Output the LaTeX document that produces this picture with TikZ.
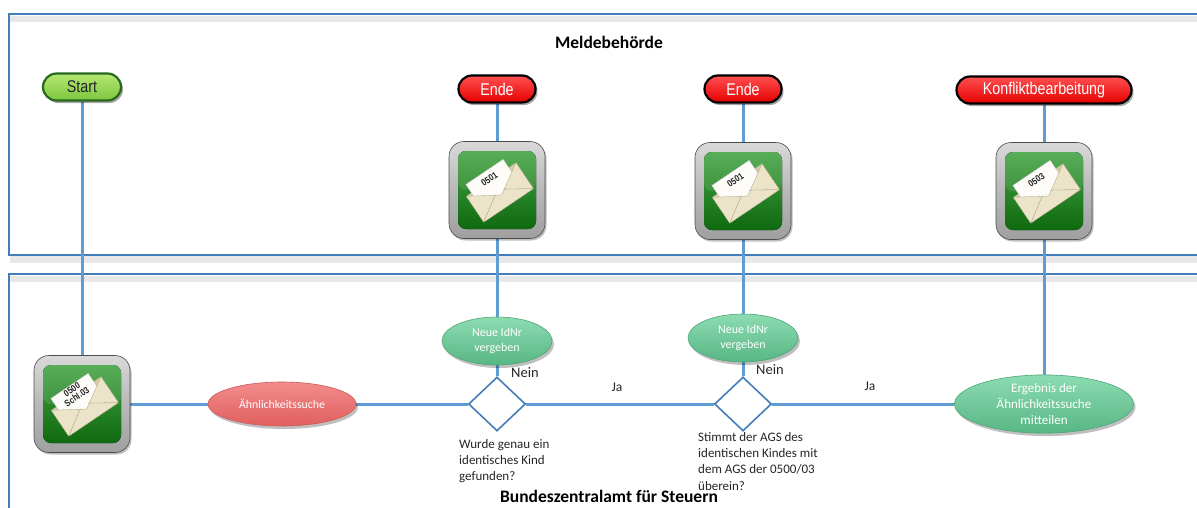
\documentclass[tikz,border=0pt]{standalone}
\usepackage{fontspec}
\setmainfont{Carlito}
\newfontfamily\narrowfont[FakeStretch=0.84]{Liberation Sans}
\usetikzlibrary{shapes.geometric,shadows,backgrounds}
\definecolor{lanecol}{RGB}{66,126,186}
\definecolor{conncol}{RGB}{96,156,212}
\definecolor{redA}{RGB}{255,80,80}
\definecolor{redB}{RGB}{228,0,0}
\definecolor{sgreenA}{RGB}{180,232,115}
\definecolor{sgreenB}{RGB}{125,198,62}
\definecolor{sgreenD}{RGB}{40,105,30}
\definecolor{ellgA}{RGB}{140,220,178}
\definecolor{ellgB}{RGB}{88,182,132}
\definecolor{ellgD}{RGB}{80,165,120}
\definecolor{ellrA}{RGB}{242,140,140}
\definecolor{ellrB}{RGB}{225,95,95}
\definecolor{ellrD}{RGB}{205,90,90}
\definecolor{icongA}{RGB}{70,165,70}
\definecolor{icongB}{RGB}{15,105,15}
\definecolor{envA}{RGB}{236,228,200}
\definecolor{envB}{RGB}{215,203,165}
\definecolor{diacol}{RGB}{70,125,185}
\tikzset{
  pill/.style={rectangle, rounded corners=13.5pt, minimum height=27pt, line width=2.2pt,
    inner sep=0pt, font=\narrowfont\fontsize{17}{17}\selectfont,
    drop shadow={shadow xshift=2pt, shadow yshift=-2.5pt, opacity=0.35, fill=black}},
  startpill/.style={pill, draw=sgreenD, top color=sgreenA, bottom color=sgreenB, text=black!85},
  endpill/.style={pill, draw=black, top color=redA, bottom color=redB, text=white},
  iconframe/.style={rectangle, rounded corners=15pt, minimum width=96pt, minimum height=97pt,
    draw=gray!60!black, line width=0.6pt, top color=gray!30, bottom color=gray!75, middle color=gray!55,
    drop shadow={shadow xshift=1.5pt, shadow yshift=-2pt, opacity=0.25, fill=black}},
  greenell/.style={ellipse, draw=ellgD, line width=0.6pt, top color=ellgA, bottom color=ellgB,
    text=white, inner sep=0pt, align=center,
    drop shadow={shadow xshift=2pt, shadow yshift=-3pt, opacity=0.25, fill=black}},
  redell/.style={ellipse, draw=ellrD, line width=0.6pt, top color=ellrA, bottom color=ellrB,
    text=white, inner sep=0pt, align=center,
    drop shadow={shadow xshift=2pt, shadow yshift=-3pt, opacity=0.25, fill=black}},
  decision/.style={diamond, draw=diacol, line width=1.6pt, fill=white, minimum width=57pt,
    minimum height=54pt, inner sep=0pt},
  conn/.style={draw=conncol, line width=3pt},
  lanebox/.style={draw=lanecol, line width=2.8pt},
  qtext/.style={font=\fontsize{13}{16.3}\selectfont, align=left, inner sep=0pt, anchor=north west, text=black!85},
  lbl/.style={font=\fontsize{14.5}{14.5}\selectfont, inner sep=0pt, text=black!85},
  lanetitle/.style={font=\bfseries\fontsize{17.5}{18}\selectfont, inner sep=0pt},
  envicon/.pic={
    \fill[top color=icongA, bottom color=icongB, rounded corners=8pt] (-39,-39) rectangle (39,39);
    \fill[white, opacity=0.10, rounded corners=8pt] (-39,-39) rectangle (39,0);
    \begin{scope}[rotate=34, shift={(1,3)}, scale=1.25]
      \fill[envB] (-24,-12) rectangle (24,13);
      \fill[white!90!envA, draw=gray!45, line width=0.3pt] (-19,-20) rectangle (17,8);
      \fill[envA, draw=envB!80!black, line width=0.3pt] (-24,-12) -- (0,3) -- (24,-12) -- (24,13) -- (-24,13) -- cycle;
      \draw[envB!70!black, line width=0.3pt] (-24,13) -- (-4,0);
      \draw[envB!70!black, line width=0.3pt] (24,13) -- (4,0);
      \node[transform shape, font=\narrowfont\bfseries\fontsize{7.5}{8}\selectfont, align=center, inner sep=0pt, text=black!85] (-lab) at (-1,-13) {#1};
    \end{scope}
  }
}
\begin{document}
\begin{tikzpicture}[x=1pt,y=-1pt]
\useasboundingbox (0,0) rectangle (1197,507);
% lane titles
\node[lanetitle] (t1) at (609,42) {Meldebehörde};
\node[lanetitle] (t2) at (609,496) {Bundeszentralamt für Steuern};
% terminals
\node[startpill, minimum width=78pt] (start) at (82,87) {Start};
\node[endpill, minimum width=77pt] (ende1) at (497,89) {Ende};
\node[endpill, minimum width=77pt] (ende2) at (743,89) {Ende};
\node[endpill, minimum width=175pt] (konf) at (1044,90) {Konfliktbearbeitung};
% icons
\node[iconframe] (e0) at (82,404) {};
\pic (p0) at (e0.center) {envicon={0500\\[-1pt]Schl.03}};
\node[iconframe] (e1) at (497,190) {};
\pic (p1) at (e1.center) {envicon={0501}};
\node[iconframe] (e2) at (743,191) {};
\pic (p2) at (e2.center) {envicon={0501}};
\node[iconframe] (e3) at (1044,191) {};
\pic (p3) at (e3.center) {envicon={0503}};
% process nodes
\node[redell, minimum width=148pt, minimum height=44pt, font=\fontsize{11.8}{13}\selectfont] (aehn) at (282,404) {Ähnlichkeitssuche};
\node[greenell, minimum width=110pt, minimum height=48pt, font=\fontsize{12}{14.5}\selectfont] (n1) at (497,341) {Neue IdNr\\vergeben};
\node[greenell, minimum width=110pt, minimum height=48pt, font=\fontsize{12}{14.5}\selectfont] (n2) at (743,338) {Neue IdNr\\vergeben};
\node[greenell, minimum width=179pt, minimum height=54pt, font=\fontsize{13}{16}\selectfont] (erg) at (1044,404) {Ergebnis der\\Ähnlichkeitssuche\\mitteilen};
\node[decision] (d1) at (497,404) {};
\node[decision] (d2) at (743,404) {};
% labels
\node[lbl] (nein1) at (525,373) {Nein};
\node[lbl] (nein2) at (770,370) {Nein};
\node[lbl, font=\fontsize{13.5}{13.5}\selectfont] (ja1) at (617,387) {Ja};
\node[lbl, font=\fontsize{13.5}{13.5}\selectfont] (ja2) at (870,386) {Ja};
\node[qtext] (q1) at (459,439) {Wurde genau ein\\identisches Kind\\gefunden?};
\node[qtext] (q2) at (698,432) {Stimmt der AGS des\\identischen Kindes mit\\dem AGS der 0500/03\\überein?};
\begin{pgfonlayer}{background}
  \fill[white] (0,0) rectangle (1197,507);
  \begin{scope}
    \clip (0,0) rectangle (1197,507);
    \fill[gray!18] (10,16) rectangle (1197,22);
    \fill[gray!18] (10,256) rectangle (1197,263);
    \fill[gray!18] (10,276) rectangle (1197,282);
    \draw[lanebox] (9,14) rectangle (1215,255);
    \draw[lanebox] (9,274) rectangle (1215,530);
  \end{scope}
  \draw[conn] (start.south) -- (e0.north);
  \draw[conn] (e0.east) -- (aehn.west);
  \draw[conn] (aehn.east) -- (d1.west);
  \draw[conn] (d1.east) -- (d2.west);
  \draw[conn] (d2.east) -- (erg.west);
  \draw[conn] (ende1.south) -- (e1.north);
  \draw[conn] (e1.south) -- (n1.north);
  \draw[conn] (n1.south) -- (d1.north);
  \draw[conn] (ende2.south) -- (e2.north);
  \draw[conn] (e2.south) -- (n2.north);
  \draw[conn] (n2.south) -- (d2.north);
  \draw[conn] (konf.south) -- (e3.north);
  \draw[conn] (e3.south) -- (erg.north);
\end{pgfonlayer}
\end{tikzpicture}
\end{document}
